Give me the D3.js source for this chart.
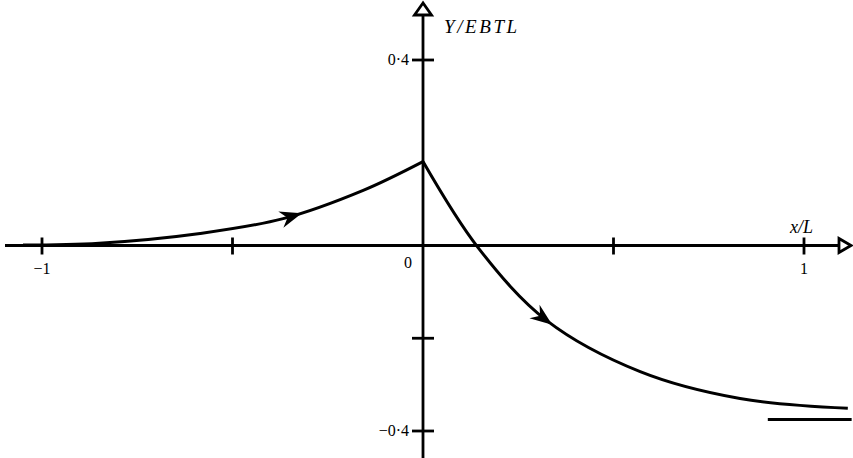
<!DOCTYPE html>
<html>
<head>
    <meta charset="utf-8">
    <title>Y/EBTL against x/L</title>
    <script src="https://d3js.org/d3.v7.min.js"></script>
    <style>
        body { margin: 0; background: #fff; }
        .axis-line { stroke: #000; stroke-width: 2.8px; fill: none; }
        .curve { stroke: #000; stroke-width: 3px; fill: none; }
        .lbl { font-family: "Liberation Serif", "Times New Roman", serif; fill: #000; }
    </style>
</head>
<body>
    <div id="chart"></div>

    <script>
        // data
        const leftX = [-1.05, -0.85, -0.585, -0.367, -0.157, 0];
        const leftY = [0.001, 0.005, 0.026, 0.058, 0.119, 0.181];
        const rightX = [0, 0.144, 0.325, 0.57, 0.832, 1.115];
        const rightY = [0.181, -0.004, -0.162, -0.272, -0.330, -0.351];
        const asymptoteY = -0.375;
        const asymptoteX = [0.905, 1.125];
        const arrowX = [-0.318, 0.339];   // where the direction arrows sit
        const xTicks = [-1, -0.5, 0.5, 1];
        const yTicks = [0.4, -0.2, -0.4];
        const xTickLabels = [{v: -1, t: "\u22121"}, {v: 1, t: "1"}];
        const yTickLabels = [{v: 0.4, t: "0\u00b74"}, {v: -0.4, t: "\u22120\u00b74"}];

        const width = 853, height = 458;

        const svg = d3.select("#chart").append("svg")
            .attr("width", width)
            .attr("height", height);

        const x = d3.scaleLinear().domain([-1, 1]).range([42, 804]);
        const y = d3.scaleLinear().domain([-0.4, 0.4]).range([431, 60]);

        const x0 = x(0), y0 = y(0);

        // axes
        svg.append("line").attr("class", "axis-line")
            .attr("x1", 5).attr("x2", 839).attr("y1", y0).attr("y2", y0);
        svg.append("line").attr("class", "axis-line")
            .attr("x1", x0).attr("x2", x0).attr("y1", 15).attr("y2", height);

        // open arrowheads at the ends of the axes
        svg.append("path").attr("class", "axis-line")
            .attr("d", `M${x0},3 L${x0 - 8.5},15 L${x0 + 8.5},15 Z`)
            .style("fill", "#fff");
        svg.append("path").attr("class", "axis-line")
            .attr("d", `M851,${y0} L839,${y0 - 7} L839,${y0 + 7} Z`)
            .style("fill", "#fff");

        // ticks
        svg.selectAll(".xtick").data(xTicks).join("line")
            .attr("class", "axis-line xtick")
            .attr("x1", d => x(d)).attr("x2", d => x(d))
            .attr("y1", y0 - 8).attr("y2", y0 + 9);
        svg.selectAll(".ytick").data(yTicks).join("line")
            .attr("class", "axis-line ytick")
            .attr("x1", x0 - 11).attr("x2", x0 + 11)
            .attr("y1", d => y(d)).attr("y2", d => y(d));

        // tick labels
        svg.selectAll(".xl").data(xTickLabels).join("text")
            .attr("class", "lbl xl")
            .attr("x", d => x(d.v))
            .attr("y", y0 + 28)
            .attr("text-anchor", "middle")
            .style("font-size", "16px")
            .text(d => d.t);
        svg.append("text").attr("class", "lbl")
            .attr("x", x0 - 11).attr("y", y0 + 22)
            .attr("text-anchor", "end")
            .style("font-size", "16px")
            .text("0");
        svg.selectAll(".yl").data(yTickLabels).join("text")
            .attr("class", "lbl yl")
            .attr("x", x0 - 14)
            .attr("y", d => y(d.v) + 5)
            .attr("text-anchor", "end")
            .style("font-size", "16px")
            .text(d => d.t);

        // axis titles
        svg.append("text").attr("class", "lbl")
            .attr("x", x0 + 21).attr("y", 33)
            .style("font-size", "19px")
            .style("font-style", "italic")
            .style("letter-spacing", "2.6px")
            .text("Y/EBTL");
        svg.append("text").attr("class", "lbl")
            .attr("x", x(1) - 14).attr("y", y0 - 13)
            .style("font-size", "18px")
            .style("font-style", "italic")
            .text("x/L");

        // curve
        const line = d3.line()
            .x(d => x(d[0]))
            .y(d => y(d[1]))
            .curve(d3.curveCatmullRom.alpha(0.5));

        const branches = [
            d3.zip(leftX, leftY),
            d3.zip(rightX, rightY)
        ];
        const paths = branches.map(b =>
            svg.append("path").attr("class", "curve").attr("d", line(b)).node());

        svg.append("line").attr("class", "curve")
            .attr("stroke-width", 2)
            .attr("x1", x(asymptoteX[0])).attr("x2", x(asymptoteX[1]))
            .attr("y1", y(asymptoteY)).attr("y2", y(asymptoteY));

        // direction arrows: find point on path at given x and orient along tangent
        function pointAtX(path, px) {
            const total = path.getTotalLength();
            let lo = 0, hi = total;
            for (let i = 0; i < 40; i++) {
                const mid = (lo + hi) / 2;
                if (path.getPointAtLength(mid).x < px) lo = mid; else hi = mid;
            }
            const p = path.getPointAtLength(lo);
            const q = path.getPointAtLength(Math.max(0, lo - 3));
            return {x: p.x, y: p.y, a: Math.atan2(p.y - q.y, p.x - q.x) * 180 / Math.PI};
        }

        arrowX.forEach((ax, i) => {
            const p = pointAtX(paths[i], x(ax));
            svg.append("path")
                .attr("d", "M0,0 L-22,-8.5 L-15,0 L-22,8.5 Z")
                .attr("fill", "#000")
                .attr("transform", `translate(${p.x},${p.y}) rotate(${p.a})`);
        });
    </script>
</body>
</html>
